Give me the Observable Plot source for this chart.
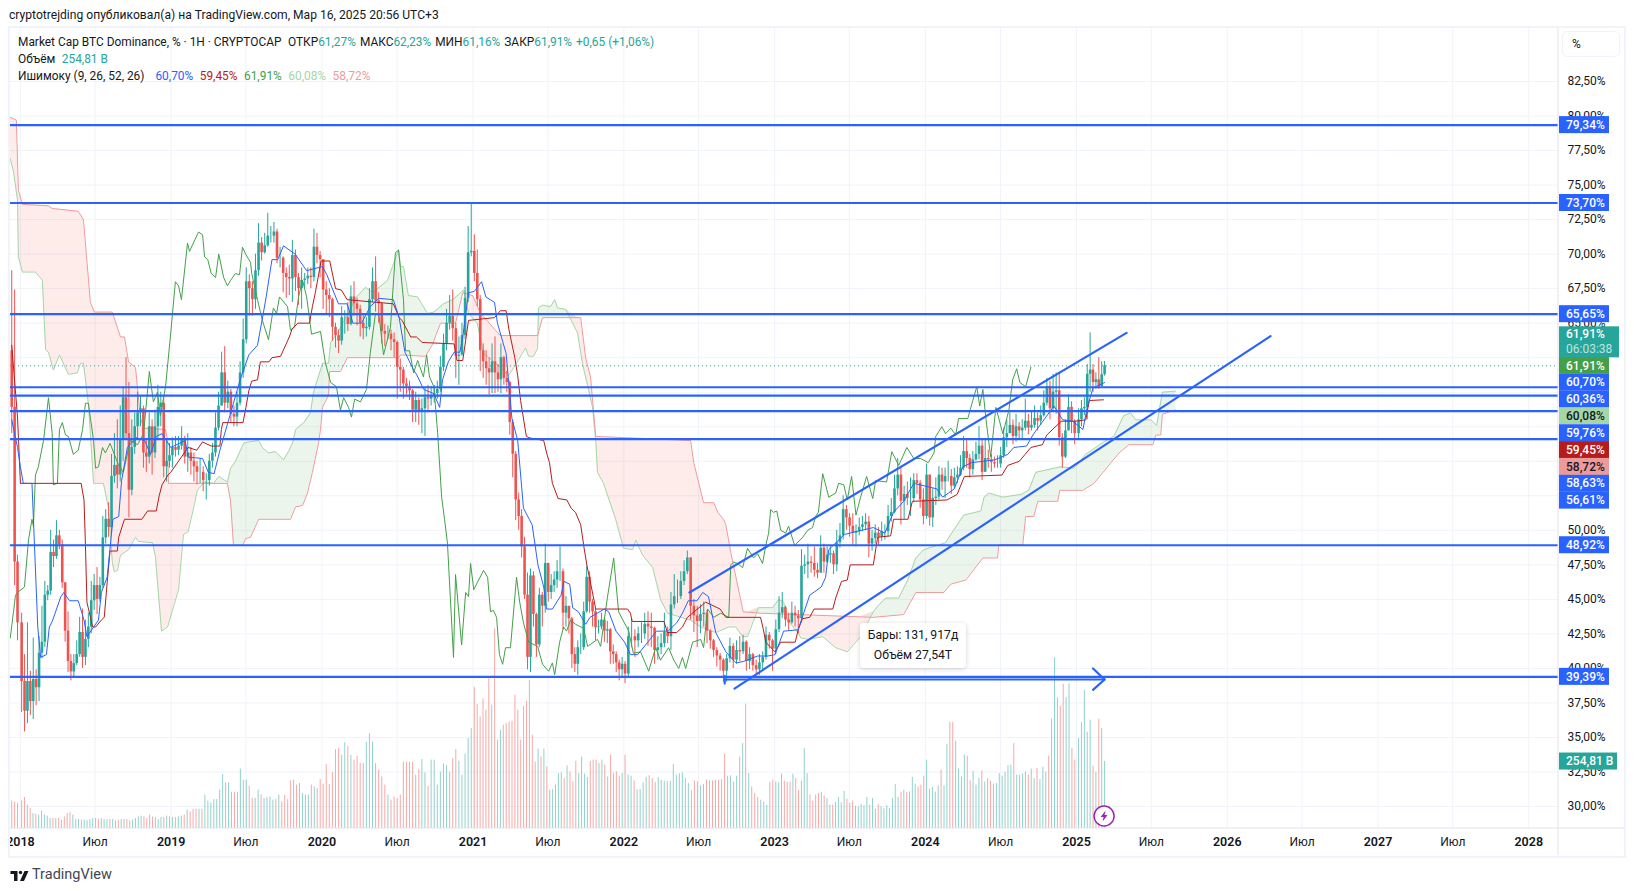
<!DOCTYPE html>
<html><head><meta charset="utf-8">
<script src="https://cdn.jsdelivr.net/npm/d3@7"></script>
<script src="https://cdn.jsdelivr.net/npm/@observablehq/plot@0.6"></script>
<style>
html,body{margin:0;padding:0;background:#fff;width:1634px;height:891px;overflow:hidden}
#root{position:relative;width:1634px;height:891px;font-family:Roboto,sans-serif;color:#131722}
#root svg{display:block;position:absolute;left:0;top:0}
.ov{position:absolute;white-space:nowrap}
.leg{left:18px;font-size:11.9px;line-height:16px}
.leg span+span{margin-left:6.5px}
.leg span.n{margin-left:0}
.leg span.g{margin-left:4px}
.t{color:#26a69a}
</style></head><body>
<div id="root"></div>
<script>
// candles: [close, high, low]; the open of a candle is the previous close
const openFirst=63;
const bars2017=[[58.9,68.8,57],[47.7,67.4,46],[43.3,48.2,42]];
const bars2018=[[39.05,44,36.8],[36.9,41,35.4],[39.05,43.3,36],[37.6,39.8,36.6],[39.2,42.2,36.3],[38.6,39.9,37.3],[41.1,42.3,37.6],[41.9,44.5,40.7],[45.3,46.3,41.5],[45.6,46,44.9],[48.4,50,45.3],[48.1,49.3,47.3],[49.6,50.7,47.9],[48.95,50,48.6],[46.2,49.3,45.8],[42.7,46.2,41.9],[40.5,44.1,39.7],[39.75,41,39.1],[40.35,41,39.4],[41,42,40.2],[42.6,43.7,40.8],[40.8,44.3,40],[42.1,43.5,40.2],[43,44,41.5],[44.9,46.3,42.5],[46,46.8,44.2],[45,47.3,43.9],[46,46.6,44.8],[49.45,51,45.8],[50.8,51.5,49],[50.2,52,49.5],[53.9,55.5,49.8],[54.7,57,53.4],[54,58,53],[56.5,59,53.5],[59.6,60.4,55],[57,62.5,56.5],[52.9,60.7,50.9],[56,58,52.5],[57.5,58.5,55.5],[58.5,60,56.5],[58.8,59.7,57.5],[55.6,59,54.5],[55.3,56.5,54.2],[57.5,58.5,54.8],[55.6,58,54],[57.5,58.7,55.2],[58.9,60.5,56.5],[59.2,60,57.5],[54.6,59.6,53.8],[55,56.5,53.5],[55.4,56.3,54.5]];
const bars2019=[[56,56.7,54.5],[55.8,56.8,55.3],[56.1,56.8,55.4],[56.6,57.5,55.8],[55.3,56.8,54.8],[55.6,57,54.2],[55,56,54],[54.6,55.6,53.5],[54.2,55,53.3],[54.2,55.2,53.4],[53.6,54.6,52.8],[53.6,54.1,52.2],[55,55.5,53.2],[55.6,56.3,54.5],[57.4,58.5,55.3],[59,60,57.2],[61.4,62.9,59],[59.2,63.3,58.5],[60,60.8,58.8],[58.4,60.2,57.8],[58.2,59,57.5],[59.2,60,57.5],[61.4,62.2,59],[63.8,65.3,61],[68,69,63.5],[67.5,68.5,65.5],[66.7,68,65.5],[68.8,70,66],[70.8,72.2,68.4],[70.1,71.2,69.5],[70.6,71.5,70],[71.3,72.95,70.5],[71.3,72,70.8],[71.6,72.3,70.8],[69.7,71.8,69.3],[69.7,70.5,69],[68.6,69.8,67.2],[68.3,69,66.8],[68.2,69.2,67],[69.9,71,66.5],[68.3,70.3,67.3],[67.5,68.6,66.3],[68.1,69,66],[68.2,68.6,67.5],[68.4,69,67.8],[68.3,69,67.5],[70.5,71.8,68],[69.9,71.5,69.3],[69.6,70.2,68.3]];
const bars2020=[[67.4,69.6,66],[67,68,65.7],[66.7,67.5,65.4],[64.7,66.8,63.7],[64.1,65,63.2],[63.7,64.5,62.8],[65.4,66.2,63.4],[65.4,65.9,64.2],[64.9,66.5,64.4],[66.9,67.7,64.8],[66.4,68,65.5],[66,66.8,64.8],[65,66.3,64],[64.6,65.6,63.8],[64.7,65.4,64],[66.7,67.5,64.5],[68,69,66.5],[66.6,69.8,65.8],[66.4,67.2,65],[64.4,66.5,63.5],[64.2,64.9,63.3],[64.2,64.8,63.8],[63.8,64.5,63],[63.6,64.3,62.5],[61.8,63.7,59.5],[61.6,62.4,60],[60.6,61.8,59.5],[60.4,61,59.8],[60.1,60.8,59.4],[58.7,60.2,57.8],[59.4,60,57.8],[58.6,59.6,57.6],[58.8,59.5,57],[59.6,60.3,56.8],[59.5,60.5,58.5],[59.7,60.4,59],[59.9,60.5,59.2],[60.2,60.8,59.5],[61.8,62.6,60],[63.5,64.2,61.5],[65,66,63],[65.5,67,64.5],[64.6,67.4,63.7],[62.6,65,61],[62.7,64,60.5],[64.1,65,62.6],[66.8,67.6,63.8],[70.1,72,66.5],[70.2,73.7,69.8]];
const bars2021=[[68.6,71.4,68],[66.7,70.3,66.2],[63,67,61.5],[62.2,63.5,61],[61.7,63,60.5],[61.4,62.5,59.8],[62.2,63.5,59.9],[61.4,64,59.9],[60.9,62,60],[62.5,63.5,59.9],[61,62.6,60.5],[60.7,61.5,60],[57.8,60.8,56.9],[55.5,58,53.8],[52.2,55.7,50.7],[51,52.7,50],[48.8,51.5,48],[45.3,49.5,45],[40.8,46.9,39.9],[46.7,47.2,39.7],[43.9,47,43],[41.7,44,40.8],[45.3,45.8,41.5],[44.5,45.5,43],[47.6,49,44],[45.5,47.6,44.8],[46,46.8,45],[46.4,47,45.5],[47,47.8,45.8],[47,48.8,46.3],[44,47.2,42.8],[44.5,45.2,43],[43.6,44.5,42.5],[41,43.7,40],[40.3,41.5,39.7],[41.5,42,39.5],[41.5,42.5,41],[44.1,44.8,41.3],[46.6,47.4,44],[44.8,47,44],[44.1,45,43],[42.95,44.3,42],[43,43.5,42.5],[43.5,44,42.8],[42.7,43.7,41.9],[42.8,43.4,41.8],[41.2,42.9,40.3],[41,41.7,40.3],[40.4,41.2,39.7],[39.9,40.6,39.1],[40.3,40.8,39.3]];
const bars2022=[[39.6,40.5,38.9],[42.3,43,39.4],[42.3,43.6,41.5],[42,42.8,40.8],[42.5,43,41.5],[42.5,43.3,41.8],[43.2,44,42.1],[43,44.1,41.6],[42.9,44,41.5],[41.3,43,40.3],[41.5,42.3,40.6],[41.8,42.5,41],[42.6,44,41.5],[42.3,43,41.8],[44.6,45.5,41.3],[45.2,46.8,44.3],[45.2,46.4,44.7],[46.3,47,45],[47,47.8,46],[48,48.5,46.8],[44.5,48,43.5],[43.8,45,42.6],[43.4,44.5,41.5],[43.9,44.6,42.5],[44,44.8,43],[42.7,44.2,41.8],[42,42.8,41.4],[41.3,42.1,40.8],[40.9,41.5,40.1],[40.6,41.1,39.8],[39.8,40.7,39],[40.7,41,39],[41.6,42.2,40.4],[40.6,41.8,40],[41.3,42,40.3],[41.2,42.3,40.5],[41.9,42.4,41],[40.5,42,39.8],[41,41.5,39.9],[40.2,41.1,39.8],[39.9,40.6,39.6],[40.4,41,39.5],[40.8,41.2,39.8],[42.4,43,40.6],[42,42.6,41.4],[41.4,42.1,39.8]];
const bars2023=[[42.8,43.5,41],[44,45.2,42.6],[44.4,45.5,43.6],[43.5,44.5,43],[43.3,44,42.7],[44,44.8,43.2],[43.8,44.5,43],[43.6,44.2,42.5],[47.4,48.6,43.3],[47.5,48.2,46.8],[47.7,49,46.5],[47.6,48.1,46.9],[47.1,48.8,46.6],[46.9,47.6,46.5],[48.7,49.6,47],[47.7,49,46.9],[48.2,48.8,47.6],[48.3,48.9,47.6],[47.5,48.5,46.8],[49.1,50,47],[49.6,50.5,48.7],[51.5,52.5,49.3],[50.9,51.8,50],[50.3,51.2,49.5],[49.8,51.2,48.9],[49.9,50.4,48.8],[50.2,50.9,49.6],[50.4,51,49.9],[50.6,51.2,50],[49,51,48],[49.4,50,48.5],[49.8,50.4,49],[49.5,50.2,48.9],[49.9,50.6,49.2],[49.9,50.4,49.3],[51,51.8,49.5],[51.3,52.3,50.6],[53,54,51.2],[54,55.2,52.5],[52.1,54.5,50.4],[52.6,53.2,50.8],[52.3,53.5,51.8],[52.3,53.8,51],[53.6,54.1,52],[53.4,54.1,52.6],[52.2,53.6,51.6],[51,53,50.4]];
const bars2024=[[54,54.8,50.8],[50.9,54,50.3],[52.3,53,50.2],[52.4,53.8,51.8],[54,54.6,52.2],[53.5,54.5,52.9],[53.9,54.5,52.3],[53.9,55,53.5],[53.2,54.4,52.6],[53.8,54.5,53],[54,54.6,53.4],[54.5,55.4,53.9],[55.7,56.8,54.3],[55.2,56.5,54.5],[54.4,55.5,53.8],[55.1,55.7,54],[55.5,56.4,55],[56.1,57.5,55.1],[54.2,56.5,53.6],[55.2,56.5,54.7],[55.1,55.8,54.5],[54.9,55.5,54.2],[54.8,55.3,54.5],[54.8,55.4,54.5],[55.4,56,54.5],[56.7,57.4,55.2],[57,58,56],[57.6,58.5,57],[56.8,58,56.2],[57.5,58.4,56.4],[57.2,57.8,56.5],[57.4,58,56.6],[57.9,59.5,57.2],[57.4,58.4,56.9],[57.6,58.6,57.2],[58.1,59,57.4],[57.9,58.5,57.2],[58.3,59,57.6],[59.2,60.1,58.2],[60.4,61,59],[58.8,60.8,58],[60,61.3,58.6],[60.1,61.4,58.4],[56.7,61.45,56.1],[55.3,57,54.5],[57.2,58,55.2],[58.9,59.8,57.2],[57.9,59.3,57],[57,58,56.2]];
const bars2025=[[58,58.8,56.5],[58.8,59.4,57.5],[58.9,59.6,58.3],[61.3,62,58],[61.6,64.3,60],[60.7,62,60],[60.9,61.4,60.2],[60.4,62.5,60.2],[61.27,62.2,60.4],[61.91,62.23,61.16]];
// weekly volume, billions
const vol2017=[105,100,95];
const vol2018=[105,118,89,76,57,54,51,66,51,47,38,38,38,38,32,44,57,61,51,34,34,32,32,30,34,38,38,35,38,34,34,34,34,29,32,34,34,34,29,32,38,44,47,44,38,51,44,42,34,42,42,47,44];
const vol2019=[42,42,44,47,51,70,63,73,73,73,73,127,104,97,110,110,146,205,174,174,138,137,138,226,184,184,161,115,115,146,127,114,118,120,108,110,127,101,127,110,181,184,165,171,133,127,127,165,158,152,186];
const vol2020=[168,243,168,213,300,304,279,326,313,279,260,275,247,247,329,361,329,247,222,196,165,127,108,120,114,127,252,252,252,252,203,224,262,212,161,260,260,165,214,245,239,214,266,300,256,203,283,342,380];
const vol2021=[538,472,424,492,450,570,469,760,336,374,393,399,405,408,507,450,336,465,484,564,355,253,302,272,302,234,146,148,165,209,212,190,238,215,177,256,209,272,207,194,255,260,260,247,260,241,196,279,209,215,199,209];
const vol2022=[279,203,199,181,146,148,174,195,201,190,174,193,184,180,179,179,243,203,208,212,190,171,143,181,177,162,167,184,180,181,184,184,186,283,199,200,177,199,272,323,473,209,158,133,118,108,101,89,175,184];
const vol2023=[177,174,207,180,176,176,207,190,146,180,304,209,127,104,127,133,137,123,114,89,89,99,118,98,141,111,96,104,85,82,91,87,118,89,114,73,91,82,75,87,76,114,167,118,138,146,136,139,194,169,158,165,199];
const vol2024=[260,150,156,139,162,222,162,321,403,403,332,226,196,279,275,181,218,165,190,218,177,190,180,169,171,209,199,214,239,241,323,203,203,207,215,203,226,190,229,186,233,214,275,416,650,497,465,549,498,551,305,260];
const vol2025=[342,403,526,366,412,237,214,416,381,254.81];
// Ishimoku lines: [weeks since 2018-01-01, percent]
const tenkan=[[-3,58],[-1,56],[0,54.6],[1,53.4],[4,53.4],[6,43],[7,40.8],[9,41],[10,43],[11,43.4],[14,45.2],[15,45.5],[17,44.9],[20,44.9],[22,43.5],[23,42.3],[27,43.5],[28,45.5],[30,46.6],[32,50.8],[34,51],[35,53.6],[37,56],[40,56.7],[43,56.5],[45,55.5],[47,56.8],[49,57],[52,56],[57,56.5],[58,55.3],[63,55.2],[65,54.2],[67,54.1],[69,55.8],[73,58.7],[76,60.9],[79,62.7],[82,63.4],[84,65.7],[85,66.9],[87,69.6],[89,69.6],[91,70.6],[95,70],[99,68.8],[104.5,69.1],[106,68.5],[110,66.4],[113,66.4],[115,65],[118,65],[121,66.2],[124,66.8],[129,66.7],[131,65.4],[133,62.9],[136,61.6],[137,61.3],[139.5,60.2],[143,59.9],[145,58.9],[146,60.9],[148,62.2],[150,62.9],[152,62.9],[153,64],[155,67.2],[157,67.3],[159.5,68],[161,66.9],[164,66.5],[165,65],[168,62.8],[170,58.1],[172,56.5],[174,51.6],[176,50.8],[177,50.4],[179,47.5],[181,45.9],[182,44.3],[184,44.3],[187,45.3],[188,46.3],[190,46.1],[191,44.4],[193,44.1],[195.5,43.2],[197,43.7],[202,44.3],[203.5,44.1],[206,42.7],[209,41.9],[211,41],[213.5,41],[217,41.9],[220,42.7],[224,42.7],[227,43.3],[229,44],[231,44.9],[234,44.9],[236,45.5],[238,45.2],[240.5,42.6],[244,41.2],[247.5,40.4],[250,40.5],[255,40.9],[258.5,40.9],[261,41],[264,42.7],[269,42.8],[273,45.3],[277,45.9],[278.5,46.6],[279.6,48.6],[285,49.7],[295,50.2],[299,49.8],[302,51.3],[305.5,52.1],[309,53.4],[317,53],[319,52.4],[323,53],[326,54.6],[329,54.9],[333,55],[337,55.1],[341.5,55.5],[343.6,56],[348,56.1],[350.5,57],[354,58],[357.5,59],[360.5,58],[364,57.9],[367.5,57.3],[369,58.9],[371,60.3],[375,60.7]];
const kijun=[[-3,63.4],[-1,58.2],[0,53.4],[21,53.4],[22,52.2],[22.5,48.9],[23,44.8],[25,43],[26,43],[28,43.5],[29,43.7],[30,46.2],[31,48.5],[33.5,48.5],[34,49.5],[36,50.8],[42,50.8],[44,51.4],[47,51.4],[48,52.5],[49,53.3],[51,54],[52,54.2],[58,56],[61,55.8],[63,56.4],[66,56.1],[69,56.1],[69.5,57.3],[70,57.8],[77,57.8],[78,58.9],[79,60.1],[80,60.8],[82,60.9],[83,62.2],[86,62.2],[87,62.5],[90,62.6],[93,64],[94,64.6],[96,65],[100,65],[101,66.2],[102,67.2],[104,69.5],[107,69.5],[109,67.5],[111,67.4],[113,66.7],[129,66.4],[131,65.4],[132,65.2],[135,64],[137,64],[139,63.6],[150,63.5],[151,62.3],[153,62.3],[155,65.2],[164,65.4],[166,65.9],[168,65.9],[169,64.5],[171,62.5],[172,61.2],[173,59.4],[175,56.8],[176,56.7],[181,56.5],[182,55.6],[183,54.9],[184,53.4],[186,52.3],[189,52.2],[190.5,51.6],[192,51.3],[193.8,50.4],[194.9,48.8],[196,47.4],[197,46.4],[199,44.3],[210,44.3],[211,44],[211.6,43.4],[222.6,43.4],[223.8,42.6],[227,42.6],[229,43],[230.7,43.7],[235.9,44.6],[237,44.8],[242,44.3],[244,43.7],[256,43.7],[257,42.8],[257.8,41.9],[261,41.2],[263,41.9],[268,41.9],[269,42.8],[270.5,43.6],[273,43.7],[274.5,44.3],[281,44.3],[282,45.1],[284,46.3],[286,46.4],[287,47.5],[295,47.5],[296.5,49.5],[301,49.6],[302,50.8],[307,50.8],[308.5,52.1],[320.5,52.2],[324,52.6],[326.5,53.9],[339.5,54],[341.5,54.7],[345.5,55],[347.5,55.5],[349.5,56],[353.5,56.2],[355,56.9],[358.5,57.6],[360,57.9],[365,57.9],[368.5,58],[369.7,59.4],[374.6,59.45]];
const chikou=[[-3.5,42.2],[-2.4,44.1],[-1.7,45.3],[-1,45.5],[1.4,45.9],[2.8,49.3],[4,50.8],[4.5,50.3],[5.2,54],[6.2,54.6],[8,56.5],[9.7,59.6],[11,57],[11.4,53.3],[12.8,53.4],[13.5,57.3],[14.5,57.8],[15.6,56.9],[16.6,56.8],[18.3,55.5],[20,55.8],[21.5,57.3],[22.5,59.2],[23.5,59.2],[25.3,56.5],[26,54.5],[27,54.6],[28.4,56],[29.4,55.6],[31,56.3],[33.6,54.9],[35.6,54.2],[38,56.5],[40.5,56.2],[42.6,57],[44.6,61.5],[46,59.3],[47.4,60],[48.4,58.3],[50.2,60.4],[52,64.3],[53.6,68],[54.7,67.7],[55.7,66.7],[57.8,70.8],[58.5,70.2],[61.6,71.6],[63,71.4],[63.7,69.8],[64.8,69.6],[66,68.6],[67.5,68.3],[68.6,70],[70.3,68.3],[71.6,67.7],[72.7,68.1],[74.4,68.6],[75.8,68.5],[76.8,70.5],[77.9,70],[79.6,69.4],[80,68.6],[82,66.7],[83.7,65.2],[85.8,63.8],[87.5,66.1],[88.6,65.7],[89.6,66.9],[92.4,66.2],[93.4,64.5],[94.8,64.7],[96.2,66.9],[97.6,68.1],[99,66.9],[100.7,64.2],[103.8,64.4],[105.5,62.1],[107.3,60.7],[109.3,60.4],[110.7,58.7],[111.8,59.6],[113.5,58.9],[114.5,58.2],[115.6,59.5],[117.6,59.3],[119.7,60.2],[121,62.8],[122.8,65.7],[124,65.6],[125.6,62.7],[128,64.7],[129.7,70.1],[130.8,70.3],[131.5,68.8],[132.5,66.7],[133.2,63],[134.6,63],[136,61.4],[137.4,62.3],[139.4,61.1],[140.5,62.7],[141.5,61.1],[143,60.4],[144.3,57.1],[145.7,52.4],[146.7,50.8],[147.7,49.1],[149.8,40.8],[150.5,46.8],[152.6,41.7],[154,45.5],[155,45.2],[155.7,47.6],[156.8,45.7],[158,46.2],[160.2,47.1],[161.6,46.6],[162.6,44.1],[163.6,44.2],[164.7,43.7],[165.7,41],[166.8,40.3],[167.8,41.5],[169.5,41.5],[171.6,46.6],[172.7,44.8],[174,43.3],[175.8,41.9],[178.9,41.6],[180.6,40.3],[182.7,39.8],[184,40.4],[184.8,39.55],[186.5,41.9],[187.9,43],[188.9,42.7],[190.3,43.5],[192,43.2],[194.8,42.9],[196.2,41.6],[199.6,42.1],[200.7,41.6],[203,45.1],[205.2,48],[206.9,44.1],[210.4,42.7],[212,41.1],[214.5,41.2],[217.3,39.8],[219.7,41.5],[221.4,40.6],[224.2,41.5],[226,40.6],[227.7,40],[229,40.8],[230.1,40],[232.5,41.9],[235.3,42.1],[236.3,41.5],[237.7,44.3],[239.8,43.7],[242.2,44],[245,43.7],[245.7,47.5],[246.7,47.7],[248,47.6],[249.8,47.3],[251.5,48.7],[253.6,48],[255,48.3],[256.7,47.6],[257.8,48.9],[258.8,49.8],[259.5,51.5],[260.5,51.3],[261.6,51.4],[263,50],[264.7,49.8],[265.7,50.3],[267.8,48.9],[270.6,49.5],[272.3,50],[274,50.2],[275,51],[276,51.3],[277.5,54.1],[279.6,52.4],[282,52.7],[283,53.4],[284.8,53.3],[286,52.2],[287.5,53.9],[289,51.1],[290.6,52.4],[292.7,53.9],[294.8,52.3],[295.8,53.6],[299.6,53.5],[301.4,55.7],[303.8,54.7],[306.6,56],[309,55.2],[311.4,55.2],[314,54.9],[316,55.6],[316.6,56.8],[318.7,57.5],[320,57],[321.8,57.4],[323.5,56.9],[324.5,58.1],[327.7,58.1],[329.4,59.4],[330.8,60.4],[331.8,59],[332.9,60.2],[334,58],[335.6,55.3],[337.4,58.9],[339.8,57],[341.9,58.7],[343.2,60.9],[344.6,61.7],[345.7,60.7],[347.7,60.4],[349.5,61.8]];
const spanA=[[-3.5,76.9],[-2.4,76],[-1,73.9],[-0.7,69.8],[0.7,68.7],[5.2,68.7],[7.6,68.1],[8.7,63.1],[9.7,62.9],[11.4,61.6],[13.5,62.7],[16.6,61.3],[19.7,61.4],[20.8,62.1],[21.8,62.1],[23.5,59.2],[24.2,57],[25.3,53.4],[28.7,53.4],[30.4,51.7],[31.8,47.65],[32.5,47],[33.6,47.1],[34.6,48.2],[37.4,48.6],[39.8,49.5],[40.8,49.2],[45.7,49.1],[46.7,48.1],[48.8,42.7],[50.9,43],[53,44.5],[54.7,45.7],[56.4,49.7],[58,49.9],[60,51.7],[61.2,52.9],[63.7,53.5],[66.8,53.4],[68.6,53.9],[71.6,53.5],[72.7,54.5],[74.4,55],[77.2,56.3],[78.9,56.4],[82.4,56.5],[83.7,56],[85.8,55.6],[88.2,55.7],[91,55.1],[92.7,55.7],[94.1,56.3],[95.2,57.3],[98,57.8],[100.3,58.5],[101.4,60],[104.5,62.1],[106.6,62.1],[107.3,63.6],[109.7,64.3],[116.3,66.9],[119.4,67.6],[121.8,67.2],[127,68.1],[128.7,69.1],[130.8,70.3],[131.5,69.1],[132.5,69.1],[134.2,67],[137.4,66.9],[140.8,65.7],[143,65.8],[146.4,66.4],[149.5,66.7],[153.3,67.4],[155,65.7],[158,65],[160.2,62.8],[166,61.8],[168.8,61.2],[171.3,62],[174.7,63.2],[175.8,62.6],[177.5,62.6],[178.9,63.2],[179.2,66.1],[180.6,66.3],[183.4,66.2],[184.8,66.7],[185.8,66.1],[188.6,66],[192.7,64.3],[194.4,62.1],[197.9,58.9],[199,56.5],[199.6,54.2],[201.7,53.4],[205.9,50.8],[206.9,50],[208.6,48.7],[211.8,48.6],[212.8,49.3],[215.2,48.2],[218.7,47.3],[221.4,45],[223.8,44],[231.8,43.5],[235.3,43],[240.5,42.6],[245,43],[247.4,43],[249.8,42.3],[251.5,42.3],[255.3,44.4],[260.2,44.4],[262.3,45],[264,44.8],[265.4,43.5],[268.8,42.6],[270,42.2],[272.6,42.1],[277.5,42.3],[282,41.5],[286,41.2],[290.6,42.3],[295,44.1],[296.5,44.5],[299.3,45.1],[303.8,45.1],[306.9,46.4],[309.7,48],[312.4,48.6],[320,49.1],[321.8,49.7],[326.3,51.1],[332.2,51.4],[333.3,52.4],[335,52.7],[339.8,52.4],[346,52.6],[348.8,52.9],[351.2,54.2],[359.8,54.6],[364.4,54.5],[368.5,55.5],[374.7,56.4],[378.2,56.8],[381.6,58.3],[384,58.5],[385.8,58],[391,58],[393,57.6],[395,60],[399.6,60.08]];
const spanB=[[-3.5,79.9],[-1.4,79.7],[-0.7,74.6],[0.7,73.6],[9.7,73.5],[11,73.3],[20,73.1],[21.8,72.5],[24.2,66.5],[25.6,65.8],[31.8,65.8],[34.6,64],[36,64],[37.4,62.2],[39.8,61.8],[41.5,58.2],[42.6,57.4],[50.2,57.3],[50.9,56.5],[51.2,53.4],[71.6,53.4],[72.7,52.1],[73.7,48.9],[76.8,48.9],[77.9,49.4],[79.6,49.5],[82.4,50.8],[93.4,50.8],[95.2,51.7],[97.6,51.8],[99.3,52.7],[101,54.2],[103.1,56.3],[103.8,57.3],[104.5,58.9],[106.6,59.8],[106.9,61.5],[110.7,61.5],[113.1,62.5],[130.8,62.5],[131.5,62.7],[140.1,62.6],[142.6,63.5],[145.3,65],[150.5,65],[153,67.2],[156.4,67],[159.2,65.7],[164.3,64.5],[166,64.1],[178.9,64.1],[180.6,65.4],[193.8,65.4],[195.5,62.5],[197.2,61.1],[199,56.8],[231.8,56.5],[232.9,54.9],[236.3,52],[239.8,52],[241.2,51.3],[243.2,50.8],[244,50.4],[245.7,48.4],[250,44.1],[256,44],[295,43.7],[305.5,43.9],[309.7,45.5],[319.4,45.5],[321.8,46.1],[327,46.4],[332.9,48],[338,48],[338.4,48.95],[346.7,48.95],[347.7,51],[350.5,51],[351.9,52.1],[358.8,52.1],[359.5,52.9],[367.5,52.9],[371.3,53.4],[380,55.6],[383.4,56.2],[391.7,56.2],[392.7,56.9],[394.4,56.9],[395,58.4],[399.6,58.72]];
// drawing tools
const levels=[79.34,73.70,65.65,60.36,59.76,58.63,56.61,48.92,39.39];
const channelUpper=[[231.4,45.5],[382.6,64.3]];
const channelLower=[[247,38.54],[432.4,64.06]];
const rangeArrow=[[243.6,39.2],[375,39.2]];
const rangeHead=[[371,40],[375,39.2],[371,38.45]];
const rangeTick=[[243.6,39.45],[243.6,38.9]];
const lastPrice=61.91;
// axis ticks
const priceTicks=[30,32.5,35,37.5,40,42.5,45,47.5,50,52.5,55,57.5,60,62.5,65,67.5,70,72.5,75,77.5,80,82.5];
const hiddenPriceLabels=[52.5,55,57.5,60,62.5]; // fully covered by the price tags in the reference
const years=[2018,2019,2020,2021,2022,2023,2024,2025,2026,2027,2028];
const julyYears=[2018,2019,2020,2021,2022,2023,2024,2025,2026,2027];
const julyLabel="Июл";
// price tags on the axis
const stackedTags=[["61,91%",lastPrice,"#43a047","#fff"],["60,70%",60.70,"#2962ff","#fff"],["60,36%",60.36,"#2962ff","#fff"],["60,08%",60.08,"#a5d6a7","#131722"],["59,76%",59.76,"#2962ff","#fff"],["59,45%",59.45,"#b71c1c","#fff"],["58,72%",58.72,"#ef9a9a","#131722"],["58,63%",58.63,"#2962ff","#fff"],["56,61%",56.61,"#2962ff","#fff"]];
const looseTags=[["79,34%",79.34],["73,70%",73.70],["65,65%",65.65],["48,92%",48.92],["39,39%",39.39]];

const DAY=864e5, T0=Date.UTC(2018,0,1);
const wk=w=>new Date(T0+w*7*DAY);
const YEAR_START=y=>Date.UTC(y,0,1);
function place(arr,y,step){
  const s=YEAR_START(y), st=step||(YEAR_START(y+1)-s)/arr.length;
  return arr.map((d,i)=>[new Date(s+(y===2025?5*DAY:3*DAY)+i*st),d]);
}
const segs=[[bars2018,2018],[bars2019,2019],[bars2020,2020],[bars2021,2021],[bars2022,2022],[bars2023,2023],[bars2024,2024],[bars2025,2025,7*DAY]];
let placed=bars2017.map((d,i)=>[wk(i-3),d]);
segs.forEach(([a,y,st])=>{placed=placed.concat(place(a,y,st))});
let prev=openFirst;
const candles=placed.map(([date,[c,h,l]])=>{const o=prev;prev=c;return {date,o,c,h:Math.max(h,o,c),l:Math.min(l,o,c),up:c>=o}});

const vsegs=[[vol2018,2018],[vol2019,2019],[vol2020,2020],[vol2021,2021],[vol2022,2022],[vol2023,2023],[vol2024,2024],[vol2025,2025,7*DAY]];
let vplaced=vol2017.map((d,i)=>[wk(i-3),d]);
vsegs.forEach(([a,y,st])=>{vplaced=vplaced.concat(place(a,y,st))});
const bis=d3.bisector(d=>d.date).center;
const VBASE=28.41, VK=0.01903;
const vols=vplaced.map(([date,v])=>({date,v,top:VBASE+v*VK,up:candles[bis(candles,date)].up}));

const line=a=>a.map(([w,v])=>({date:wk(w),v}));
const GREEN="#26a69a",RED="#ef5350",BLUE="#2962ff";
// common x positions for the cloud fill only
const wa=d3.scaleLinear(spanA.map(d=>d[0]),spanA.map(d=>d[1]));
const wb=d3.scaleLinear(spanB.map(d=>d[0]),spanB.map(d=>d[1]));
const cloud=[...new Set([...spanA,...spanB].map(d=>d[0]))].sort((p,q)=>p-q).map(w=>{const a=wa(w),b=wb(w);return {date:wk(w),a,b,top:Math.max(a,b)}});

const gridDates=[...years.map(y=>new Date(Date.UTC(y,0,1))),...julyYears.map(y=>new Date(Date.UTC(y,6,1)))];
const toolLine=a=>Plot.line(line(a),{x:"date",y:"v",stroke:BLUE,strokeWidth:2.2});
const chart=Plot.plot({
  width:1634,height:891,marginLeft:10,marginRight:76,marginTop:26,marginBottom:63,
  style:{background:"transparent",fontFamily:"Roboto,sans-serif",fontSize:"12px",color:"#131722"},
  x:{type:"utc",domain:[new Date(Date.UTC(2017,11,8)),new Date(Date.UTC(2028,2,13))],axis:null},
  y:{domain:[VBASE,86.48],axis:null},
  marks:[
    Plot.gridY(priceTicks,{stroke:"#f0f3fa",strokeOpacity:1}),
    Plot.gridX(gridDates,{stroke:"#f0f3fa",strokeOpacity:1}),
    Plot.ruleX(vols,{x:"date",y1:VBASE,y2:"top",stroke:d=>d.up?GREEN:RED,strokeOpacity:.5,strokeWidth:1}),
    Plot.areaY(cloud,{x:"date",y1:"b",y2:"top",fill:"#43a047",fillOpacity:.1}),
    Plot.areaY(cloud,{x:"date",y1:"a",y2:"top",fill:"#f44336",fillOpacity:.1}),
    Plot.line(line(spanA),{x:"date",y:"v",stroke:"#a5d6a7",strokeWidth:1}),
    Plot.line(line(spanB),{x:"date",y:"v",stroke:"#ef9a9a",strokeWidth:1}),
    Plot.ruleY([lastPrice],{stroke:GREEN,strokeWidth:1,strokeDasharray:"1,3"}),
    Plot.ruleX(candles,{x:"date",y1:"l",y2:"h",stroke:d=>d.up?GREEN:RED,strokeWidth:1}),
    Plot.ruleX(candles,{x:"date",y1:"o",y2:"c",stroke:d=>d.up?GREEN:RED,strokeWidth:2.6}),
    Plot.line(line(chikou),{x:"date",y:"v",stroke:"#43a047",strokeWidth:1}),
    Plot.line(line(kijun),{x:"date",y:"v",stroke:"#b71c1c",strokeWidth:1}),
    Plot.line(line(tenkan),{x:"date",y:"v",stroke:BLUE,strokeWidth:1}),
    Plot.ruleY(levels,{stroke:BLUE,strokeWidth:2.2}),
    toolLine(channelUpper),toolLine(channelLower),toolLine(rangeArrow),toolLine(rangeHead),toolLine(rangeTick),
    Plot.axisY(priceTicks.filter(t=>!hiddenPriceLabels.includes(t)),{anchor:"right",tickSize:0,tickPadding:9,fontSize:12,tickFormat:d=>d.toFixed(2).replace(".",",")+"%"}),
    Plot.axisX(years.map(y=>new Date(Date.UTC(y,0,1))),{anchor:"bottom",tickSize:0,tickPadding:9,fontSize:12.5,fontWeight:600,tickFormat:d=>String(d.getUTCFullYear())}),
    Plot.axisX(julyYears.map(y=>new Date(Date.UTC(y,6,1))),{anchor:"bottom",tickSize:0,tickPadding:9,fontSize:12,tickFormat:()=>julyLabel})
  ]
});
const root=document.getElementById("root");
root.appendChild(chart);
const svg=d3.select(chart);
const X=v=>chart.scale("x").apply(v), Y=v=>chart.scale("y").apply(v);
// axis borders
svg.append("line").attr("x1",1558).attr("x2",1558).attr("y1",26).attr("y2",855).attr("stroke","#e0e3eb");
svg.append("line").attr("x1",10).attr("x2",1624).attr("y1",828).attr("y2",828).attr("stroke","#e0e3eb");
const label=(x,y,fill,weight,txt)=>svg.append("text").attr("x",x).attr("y",y).attr("fill",fill).attr("font-size",12).attr("font-weight",weight).attr("text-anchor","start").text(txt);
function tag(cy,txt,fill,color,w){
  const h=17;
  svg.append("rect").attr("x",1559).attr("y",cy-h/2).attr("width",w||50).attr("height",h).attr("fill",fill);
  label(1566,cy+4.2,color,500,txt);
}
looseTags.forEach(([t,v])=>tag(Y(v),t,BLUE,"#fff"));
const y0=Y(lastPrice);
stackedTags.forEach(([t,v,f,c],i)=>tag(y0+i*16.85,t,f,c));
// live tag with countdown
svg.append("rect").attr("x",1559).attr("y",y0-39).attr("width",60).attr("height",31).attr("fill",GREEN);
label(1566,y0-27,"#fff",500,"61,91%");
label(1566,y0-12,"#bfe5e0",400,"06:03:38");
tag(Y(VBASE+254.81*VK),"254,81 B",GREEN,"#fff",58);
// alert icon
const bx=X(candles[candles.length-1].date), by=Y(VBASE)-12;
svg.append("circle").attr("cx",bx).attr("cy",by).attr("r",10).attr("fill","#fff").attr("stroke","#9c27b0").attr("stroke-width",1.5);
svg.append("path").attr("transform",`translate(${bx},${by})`).attr("d","M1.5,-5.5 L-3.5,1 L-0.5,1 L-1.5,5.5 L3.5,-1 L0.5,-1 Z").attr("fill","#9c27b0");
// html overlays
root.insertAdjacentHTML("beforeend",`
<div class="ov" style="left:0;top:27px;width:8px;height:830px;background:#fff"></div>
<div class="ov" style="left:8px;top:26px;width:1614px;height:828px;border:2px solid #f0f3fa;pointer-events:none"></div>
<div class="ov" style="left:9px;top:7px;font-size:12.1px;line-height:16px">cryptotrejding опубликовал(а) на TradingView.com, Мар 16, 2025 20:56 UTC+3</div>
<div class="ov leg" style="top:34px"><span>Market Cap BTC Dominance, % · 1Н · CRYPTOCAP</span><span>ОТКР</span><span class="t n">61,27%</span><span class="g">МАКС</span><span class="t n">62,23%</span><span class="g">МИН</span><span class="t n">61,16%</span><span class="g">ЗАКР</span><span class="t n">61,91%</span><span class="t g">+0,65 (+1,06%)</span></div>
<div class="ov leg" style="top:51px"><span>Объём</span><span class="t">254,81 B</span></div>
<div class="ov leg" style="top:68px"><span>Ишимоку (9, 26, 52, 26)</span><span style="color:#2962ff;margin-left:11px">60,70%</span><span style="color:#b71c1c">59,45%</span><span style="color:#43a047">61,91%</span><span style="color:#a5d6a7">60,08%</span><span style="color:#ef9a9a">58,72%</span></div>
<div class="ov" style="left:1562px;top:31px;width:56px;height:24px;border:1.5px solid #f0f3fa;border-radius:5px;font-size:12px;line-height:24px;text-indent:9px">%</div>
<div class="ov" style="left:860px;top:623px;width:106px;height:45px;background:#fff;border-radius:4px;box-shadow:0 1px 5px rgba(0,0,0,.18);font-size:12.2px;text-align:center;line-height:20px;padding-top:2px;box-sizing:border-box"><div>Бары: 131, 917д</div><div>Объём 27,54T</div></div>
<div class="ov" style="left:10px;top:866px;display:flex;align-items:center;gap:3px;font-size:14.5px;color:#434651">
<svg style="position:static" width="19" height="14" viewBox="0 0 36 28"><path d="M14 6H0v6h7v14h7V6Z" fill="#131722"/><circle cx="20" cy="9" r="3.4" fill="#131722"/><path d="M28 6h8l-9 20h-8Z" fill="#131722"/></svg><span>TradingView</span></div>`);
</script></body></html>
